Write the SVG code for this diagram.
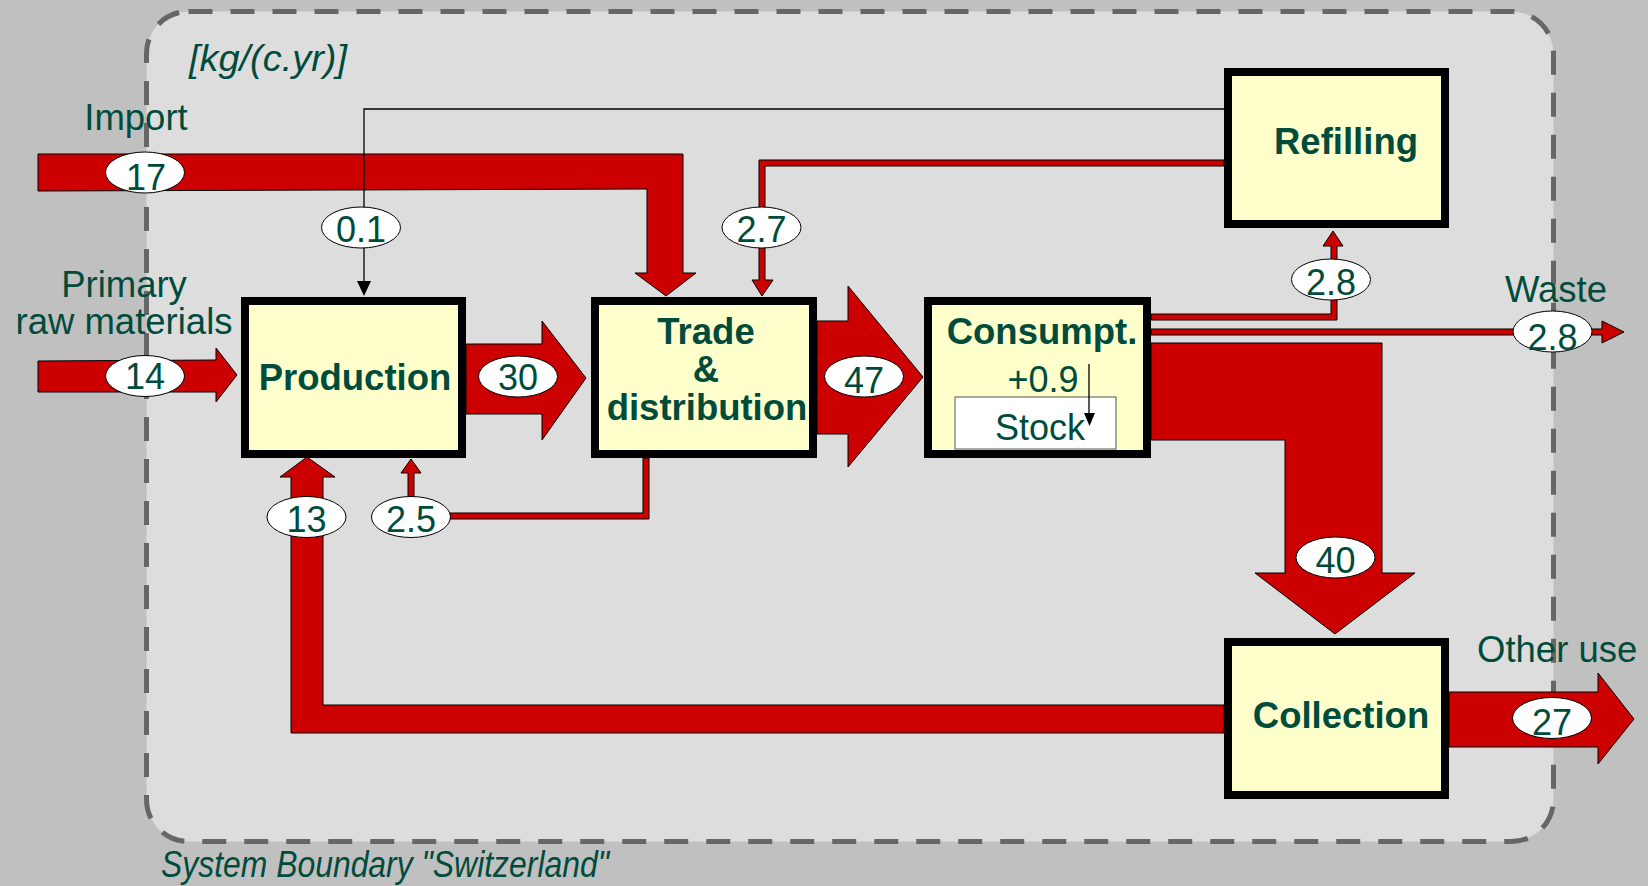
<svg xmlns="http://www.w3.org/2000/svg" width="1648" height="886" viewBox="0 0 1648 886">
<style>
.flow{fill:#cc0000;stroke:#000;stroke-width:1}
.box{fill:#ffffcc;stroke:#000;stroke-width:8}
.bl{font-family:"Liberation Sans",Arial,sans-serif;font-weight:bold;font-size:36.5px;fill:#004c3c;text-anchor:middle}
.lbl{font-family:"Liberation Sans",Arial,sans-serif;font-size:36.5px;fill:#004c3c}
.num{font-family:"Liberation Sans",Arial,sans-serif;font-size:36px;fill:#004c3c;text-anchor:middle}
.ell{fill:#fff;stroke:#000;stroke-width:1}
</style>
<rect x="0" y="0" width="1648" height="886" fill="#c0c0c0"/>
<g id="boundary">
<rect x="146.5" y="11.5" width="1407" height="830" rx="42" ry="42" fill="#dddddd" stroke="#666666" stroke-width="5" stroke-dasharray="24 18"/>
</g>
<g id="texts">
<text class="lbl" x="189" y="71" font-style="italic" font-size="38" textLength="158" lengthAdjust="spacingAndGlyphs">[kg/(c.yr)]</text>
<text class="lbl" x="136" y="130" text-anchor="middle">Import</text>
<text class="lbl" x="124" y="297" text-anchor="middle">Primary</text>
<text class="lbl" x="124" y="334" text-anchor="middle">raw materials</text>
<text class="lbl" x="1556" y="302" text-anchor="middle">Waste</text>
<text class="lbl" x="1477" y="662">Other use</text>
<text class="lbl" x="161" y="877" font-style="italic" font-size="31" textLength="448" lengthAdjust="spacingAndGlyphs">System Boundary "Switzerland"</text>
</g>
<g id="connectors">
<polygon class="flow" points="38,154 683,154 683,273 696,273 666,296 635,273 647,273 647,189 38,191"/>
<polygon class="flow" points="38,361 216,360 216,348 237,375 216,402 216,392 38,392"/>
<polygon class="flow" points="466,344 542,344 542,321 586,378 542,440 542,414 466,414"/>
<polygon class="flow" points="817,321 848,321 848,286 923,377 848,467 848,434 817,434"/>
<polygon class="flow" points="1151,343 1382,343 1382,573 1415,573 1335,634 1255,573 1285,573 1285,440 1151,440"/>
<polygon class="flow" points="1224,705 323,705 323,477 335,477 307,457 280,477 291,477 291,733 1224,733"/>
<polygon class="flow" points="1449,692 1598,692 1598,673 1634,719 1598,764 1598,747 1449,747"/>
<polygon class="flow" points="1151,314 1331,314 1331,246 1323,246 1333,231 1343,246 1337,246 1337,320 1151,320"/>
<polygon class="flow" points="1151,329 1602,329 1602,321 1624,332 1602,343 1602,335 1151,335"/>
<polygon class="flow" points="1224,160 759,160 759,280 752,280 762,296 773,280 765,280 765,166 1224,166"/>
<polygon class="flow" points="643,458 643,513 414,513 414,473 421,473 411,459 401,473 408,473 408,519 649,519 649,458"/>
<polyline points="1224,109 364,109 364,282" fill="none" stroke="#000" stroke-width="1.3"/>
<polygon points="357,281 364,296 371,281" fill="#000"/>
</g>
<g id="production">
<rect class="box" x="245" y="301" width="217" height="153"/>
<text class="bl" x="355" y="390">Production</text>
</g>
<g id="trade">
<rect class="box" x="595" y="301" width="218" height="153"/>
<text class="bl" x="706" y="344">Trade</text>
<text class="bl" x="706" y="382">&amp;</text>
<text class="bl" x="707" y="420">distribution</text>
</g>
<g id="consumption">
<rect class="box" x="928" y="301" width="219" height="153"/>
<text class="bl" x="1042" y="344">Consumpt.</text>
<text class="num" x="1043" y="392">+0.9</text>
<rect x="955" y="397" width="161" height="52" fill="#fff" stroke="#555" stroke-width="1"/>
<text class="num" x="1040" y="440">Stock</text>
<line x1="1089" y1="364" x2="1089" y2="414" stroke="#000" stroke-width="1.3"/>
<polygon points="1084,413 1089.5,426 1095,413" fill="#000"/>
</g>
<g id="refilling">
<rect class="box" x="1228" y="72" width="217" height="152"/>
<text class="bl" x="1346" y="154">Refilling</text>
</g>
<g id="collection">
<rect class="box" x="1228" y="642" width="217" height="153"/>
<text class="bl" x="1341" y="728">Collection</text>
</g>
<g id="values">
<ellipse class="ell" cx="145" cy="172.5" rx="39.5" ry="20.5"/><text class="num" x="146" y="190">17</text>
<ellipse class="ell" cx="361" cy="227.5" rx="39.5" ry="20.5"/><text class="num" x="361" y="242">0.1</text>
<ellipse class="ell" cx="145" cy="376" rx="39.5" ry="20.5"/><text class="num" x="145" y="389">14</text>
<ellipse class="ell" cx="518" cy="376.5" rx="39.5" ry="20.5"/><text class="num" x="518" y="390">30</text>
<ellipse class="ell" cx="761.5" cy="227.5" rx="39.5" ry="20.5"/><text class="num" x="761.5" y="242">2.7</text>
<ellipse class="ell" cx="864" cy="376.5" rx="39.5" ry="20.5"/><text class="num" x="864" y="393">47</text>
<ellipse class="ell" cx="1331" cy="279.5" rx="39.5" ry="20.5"/><text class="num" x="1331" y="295">2.8</text>
<ellipse class="ell" cx="1552.5" cy="331.5" rx="39.5" ry="20.5"/><text class="num" x="1552.5" y="350">2.8</text>
<ellipse class="ell" cx="1335.5" cy="557.5" rx="39.5" ry="20.5"/><text class="num" x="1335.5" y="573">40</text>
<ellipse class="ell" cx="306.5" cy="517" rx="39.5" ry="20.5"/><text class="num" x="306.5" y="532">13</text>
<ellipse class="ell" cx="411" cy="517" rx="39.5" ry="20.5"/><text class="num" x="411" y="532">2.5</text>
<ellipse class="ell" cx="1552" cy="718" rx="39.5" ry="20.5"/><text class="num" x="1552" y="735">27</text>
</g>
</svg>
